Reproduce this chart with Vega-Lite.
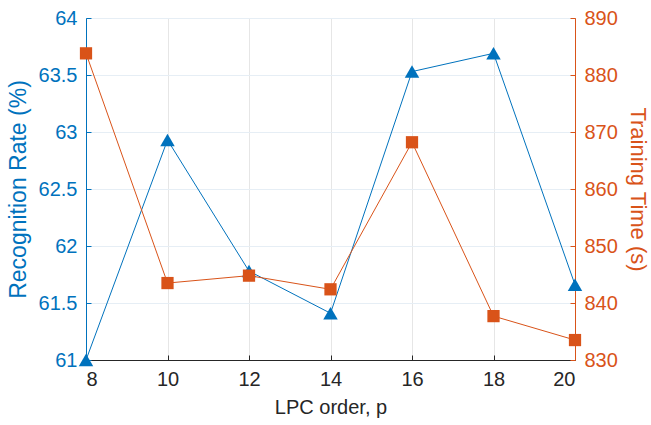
{
  "$schema": "https://vega.github.io/schema/vega-lite/v6.json",
  "width": 489,
  "height": 342,
  "autosize": {"type": "none"},
  "padding": {"left": 86, "top": 18, "right": 76, "bottom": 65},
  "background": "white",
  "config": {
    "font": "Liberation Sans",
    "view": {"stroke": "#262626", "strokeWidth": 1},
    "axis": {"labelFont": "Liberation Sans", "titleFont": "Liberation Sans", "titleFontWeight": "normal", "labelFontSize": 20, "titleFontSize": 22}
  },
  "data": {
    "values": [
      {"p": 8, "rate": 61.0, "time": 883.8},
      {"p": 10, "rate": 62.93, "time": 843.5},
      {"p": 12, "rate": 61.78, "time": 844.8},
      {"p": 14, "rate": 61.41, "time": 842.4},
      {"p": 16, "rate": 63.53, "time": 868.2},
      {"p": 18, "rate": 63.69, "time": 837.7},
      {"p": 20, "rate": 61.66, "time": 833.5}
    ]
  },
  "encoding": {
    "x": {
      "field": "p", "type": "quantitative",
      "scale": {"domain": [8, 20], "nice": false, "zero": false},
      "axis": {
        "values": [8, 10, 12, 14, 16, 18, 20],
        "format": "d",
        "title": "LPC order, p",
        "titleFontSize": 20,
        "titleColor": "#262626",
        "labelColor": "#262626",
        "domainColor": "#262626",
        "tickColor": "#262626",
        "tickSize": -5,
        "labelPadding": 14,
        "titlePadding": 8,
        "grid": true,
        "gridColor": "#e6e6e6"
      }
    }
  },
  "layer": [
    {
      "mark": {"type": "line", "color": "#0072BD", "strokeWidth": 1, "point": {"shape": "triangle-up", "filled": true, "size": 210, "color": "#0072BD", "opacity": 1}},
      "encoding": {
        "y": {
          "field": "rate", "type": "quantitative",
          "scale": {"domain": [61, 64], "nice": false, "zero": false},
          "axis": {
            "orient": "left",
            "values": [61, 61.5, 62, 62.5, 63, 63.5, 64],
            "format": "~g",
            "title": "Recognition Rate (%)",
            "titleFontSize": 23,
            "titleColor": "#0072BD",
            "labelColor": "#0072BD",
            "domainColor": "#0072BD",
            "tickColor": "#0072BD",
            "tickSize": -5,
            "labelPadding": 14,
            "titlePadding": 8,
            "grid": true,
            "gridColor": "#e6eef5"
          }
        }
      }
    },
    {
      "mark": {"type": "line", "color": "#D95319", "strokeWidth": 1, "point": {"shape": "square", "filled": true, "size": 150, "color": "#D95319", "opacity": 1}},
      "encoding": {
        "y": {
          "field": "time", "type": "quantitative",
          "scale": {"domain": [830, 890], "nice": false, "zero": false},
          "axis": {
            "orient": "right",
            "values": [830, 840, 850, 860, 870, 880, 890],
            "format": "d",
            "title": "Training Time (s)",
            "titleFontSize": 22,
            "titleColor": "#D95319",
            "labelColor": "#D95319",
            "domainColor": "#D95319",
            "tickColor": "#D95319",
            "tickSize": -5,
            "labelPadding": 14,
            "titlePadding": 8,
            "grid": false
          }
        }
      }
    }
  ],
  "resolve": {"scale": {"y": "independent"}, "axis": {"y": "independent"}}
}
